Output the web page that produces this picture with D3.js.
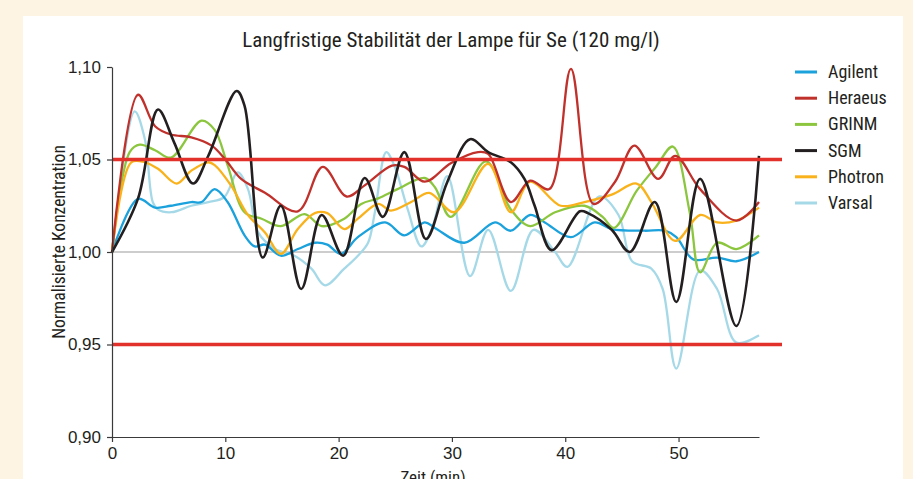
<!DOCTYPE html>
<html>
<head>
<meta charset="utf-8">
<script src="https://cdn.jsdelivr.net/npm/d3@7"></script>
<style>
  body { margin: 0; background: #fdf4e3; }
  svg { display: block; }
  text { font-family: "Liberation Sans Narrow", "Arial Narrow", "Roboto Condensed", sans-serif; fill: #231f20; }
</style>
</head>
<body>
<svg id="chart"></svg>
<script>
// ---- data ----
var seriesNames = ["Agilent", "Heraeus", "GRINM", "SGM", "Photron", "Varsal"];
var seriesColors = ["#1ba1dc", "#c1312c", "#8cc63f", "#231f20", "#f9b21b", "#a6d9e8"];

// [Zeit (min), normalisierte Konzentration]
var agilent = [[0,1],[2.3,1.0287],[3.8,1.024],[5.2,1.025],[7.0,1.027],[7.9,1.027],[9.06,1.034],[10.2,1.027],[11.7,1.009],[12.6,1.003],[13.5,1.004],[14.9,0.998],[16.4,1.0016],[17.9,1.005],[19.0,1.004],[20.2,0.999],[21.7,1.008],[24.1,1.016],[25.8,1.009],[27.6,1.016],[28.5,1.013],[31.1,1.005],[33.8,1.016],[35.2,1.0115],[36.9,1.020],[38.2,1.016],[40.5,1.008],[42.6,1.016],[44.1,1.0124],[47.0,1.0115],[48.8,1.0115],[49.8,1.008],[51.3,0.996],[53.4,0.997],[55.1,0.995],[57.1,1.000]];
var heraeus = [[0,1],[2.3,1.085],[3.8,1.068],[5.2,1.0635],[7.0,1.062],[8.8,1.0575],[10.0,1.050],[11.4,1.0395],[13.5,1.032],[16.4,1.022],[18.6,1.046],[20.7,1.030],[22.3,1.036],[24.7,1.0467],[25.8,1.046],[27.6,1.038],[29.9,1.048],[32.3,1.054],[33.2,1.053],[35.2,1.027],[36.9,1.0386],[38.6,1.034],[40.5,1.099],[42.5,1.026],[44.4,1.038],[46.1,1.0575],[48.2,1.0395],[49.7,1.052],[51.9,1.034],[55.1,1.017],[57.1,1.027]];
var grinm = [[0,1],[1.56,1.054],[2.45,1.058],[3.8,1.055],[5.2,1.051],[7.9,1.071],[9.06,1.066],[10.2,1.047],[11.7,1.0215],[13.2,1.018],[14.9,1.014],[17.0,1.0205],[18.5,1.014],[20.5,1.018],[22.0,1.026],[23.5,1.029],[25.2,1.034],[27.6,1.040],[28.5,1.035],[29.9,1.019],[33.0,1.049],[35.2,1.023],[36.9,1.014],[39.1,1.0215],[41.7,1.025],[43.3,1.019],[44.3,1.013],[46.3,1.033],[48.0,1.046],[49.5,1.057],[51.0,1.021],[51.9,0.989],[53.4,1.005],[55.1,1.0016],[57.1,1.009]];
var sgm = [[0,1],[2.3,1.029],[4.06,1.077],[5.5,1.059],[7.15,1.037],[8.5,1.052],[11.0,1.087],[11.7,1.079],[13.3,0.997],[14.9,1.025],[16.7,0.980],[18.5,1.020],[20.4,0.998],[22.3,1.040],[23.9,1.019],[25.8,1.054],[27.7,1.007],[29.6,1.038],[31.6,1.061],[33.2,1.054],[35.2,1.0485],[36.4,1.0395],[37.3,1.025],[38.8,1.001],[41.3,1.022],[42.0,1.021],[44.1,1.012],[45.7,1.000],[47.9,1.027],[49.8,0.973],[51.9,1.0395],[55.1,0.960],[57.1,1.052]];
var photron = [[0,1],[1.7,1.0485],[2.9,1.0485],[4.06,1.045],[5.7,1.037],[7.0,1.044],[8.5,1.0485],[9.06,1.047],[10.5,1.036],[12.0,1.020],[13.5,1.0106],[14.9,0.999],[16.4,1.0124],[17.9,1.021],[19.0,1.021],[20.5,1.0124],[21.7,1.018],[23.5,1.026],[24.6,1.0224],[26.4,1.027],[28.0,1.032],[30.2,1.0215],[33.2,1.0476],[35.2,1.0215],[36.9,1.038],[39.6,1.025],[41.7,1.027],[44.1,1.031],[46.3,1.037],[47.6,1.027],[49.7,1.006],[51.9,1.020],[53.4,1.016],[55.1,1.017],[57.1,1.024]];
var varsal = [[0,1],[2.0,1.076],[2.9,1.061],[3.6,1.027],[4.06,1.023],[5.24,1.0215],[7.0,1.025],[8.5,1.027],[9.9,1.0296],[11.1,1.043],[12.0,1.034],[12.9,1.0106],[14.4,1.0016],[16.1,0.998],[17.6,0.991],[18.8,0.982],[20.5,0.991],[21.7,0.998],[22.6,1.005],[23.2,1.0215],[24.2,1.054],[24.9,1.047],[26.1,1.023],[27.3,1.003],[28.2,1.012],[29.6,1.041],[31.6,0.987],[33.2,1.012],[35.2,0.979],[37.2,1.012],[39.1,1.0],[40.2,0.992],[43.0,1.030],[44.7,1.020],[45.9,0.995],[47.6,0.991],[48.6,0.980],[49.8,0.937],[51.9,0.990],[53.4,0.980],[55.1,0.951],[57.1,0.955]];

var seriesData = [agilent, heraeus, grinm, sgm, photron, varsal];
var drawOrder = [5, 0, 2, 4, 1, 3]; // Varsal at the back, SGM on top

var xTicks = [0, 10, 20, 30, 40, 50];
var yTicks = [0.90, 0.95, 1.00, 1.05, 1.10];
var limitLines = [1.05, 0.95];
var baseLine = 1.00;

// ---- layout ----
var svgWidth = 913, svgHeight = 479;
var svg = d3.select('#chart')
    .attr("width", svgWidth)
    .attr("height", svgHeight);

// white panel on the cream page
svg.append("rect")
    .attr("x", 23).attr("y", 16)
    .attr("width", 880).attr("height", svgHeight - 16)
    .attr("fill", "#ffffff");

var x = d3.scaleLinear().domain([0, 57.1]).range([112, 759]);
var y = d3.scaleLinear().domain([0.90, 1.10]).range([437, 67]);

var comma = d3.formatLocale({decimal: ",", thousands: ".", grouping: [3], currency: ["", "€"]});

// title
svg.append("text")
    .attr("x", 451).attr("y", 47)
    .attr("text-anchor", "middle")
    .attr("font-size", 21)
    .text("Langfristige Stabilität der Lampe für Se (120 mg/l)");

// grey 1,00 line
svg.append("line")
    .attr("x1", x(0)).attr("x2", x(57.1))
    .attr("y1", y(baseLine)).attr("y2", y(baseLine))
    .attr("stroke", "#bdbdbd").attr("stroke-width", 1.5);

// series
var line = d3.line()
    .x(function(d) { return x(d[0]); })
    .y(function(d) { return y(d[1]); })
    .curve(d3.curveCatmullRom.alpha(0.5));

drawOrder.forEach(function(i) {
    svg.append("path")
        .datum(seriesData[i])
        .attr("fill", "none")
        .attr("stroke", seriesColors[i])
        .attr("stroke-width", i === 3 ? 2.6 : 2.3)
        .attr("stroke-linejoin", "round")
        .attr("d", line);
});

// red limit lines (run a bit past the x axis)
svg.selectAll(".limit")
    .data(limitLines)
    .enter()
    .append("line")
    .attr("class", "limit")
    .attr("x1", x(0)).attr("x2", x(57.1) + 23)
    .attr("y1", function(d) { return y(d); })
    .attr("y2", function(d) { return y(d); })
    .attr("stroke", "#e2312b").attr("stroke-width", 3.5);

// axes
var yAxis = svg.append("g")
    .attr("transform", "translate(" + x(0) + ",0)")
    .call(d3.axisLeft(y).tickValues(yTicks).tickSize(5).tickSizeOuter(0).tickFormat(comma.format(".2f")));

var xAxis = svg.append("g")
    .attr("transform", "translate(0," + y(0.90) + ")")
    .call(d3.axisBottom(x).tickValues(xTicks).tickSize(5).tickSizeOuter(0));

[xAxis, yAxis].forEach(function(g) {
    g.selectAll("path, line").attr("stroke", "#3a3a3a").attr("stroke-width", 1.2);
    g.selectAll("text")
        .attr("font-size", 17)
        .attr("fill", "#231f20")
        .style("font-family", "'Liberation Sans Narrow', 'Arial Narrow', sans-serif");
});
yAxis.selectAll("text").attr("x", -11);
xAxis.selectAll("text").attr("y", 10);

// axis titles
svg.append("text")
    .attr("transform", "translate(65,242) rotate(-90)")
    .attr("text-anchor", "middle")
    .attr("font-size", 17.5)
    .text("Normalisierte Konzentration");

svg.append("text")
    .attr("x", 433).attr("y", 482.5)
    .attr("text-anchor", "middle")
    .attr("font-size", 17)
    .text("Zeit (min)");

// legend
var legend = svg.selectAll(".legend")
    .data(seriesNames)
    .enter()
    .append("g")
    .attr("class", "legend")
    .attr("transform", function(d, i) { return "translate(795," + (72 + i * 26.2) + ")"; });

legend.append("line")
    .attr("x1", 0).attr("x2", 22)
    .attr("stroke", function(d, i) { return seriesColors[i]; })
    .attr("stroke-width", 3);

legend.append("text")
    .attr("x", 33).attr("y", 6)
    .attr("font-size", 18)
    .text(function(d) { return d; });
</script>
</body>
</html>
